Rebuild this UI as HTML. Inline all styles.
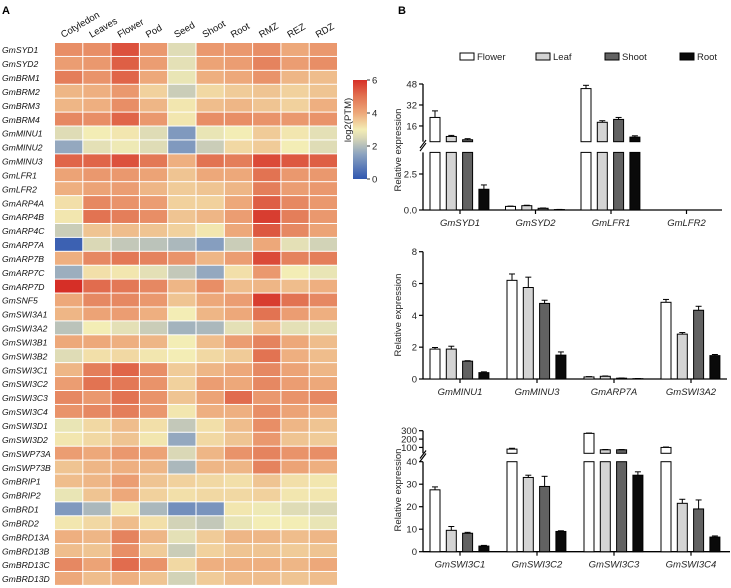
<!DOCTYPE html>
<html><head><meta charset="utf-8"><style>
html,body{margin:0;padding:0;background:#fff}
svg{display:block;font-family:"Liberation Sans",Arial,sans-serif}
</style></head><body>
<svg id="fig" width="731" height="588" viewBox="0 0 731 588" xmlns="http://www.w3.org/2000/svg">
<text x="2" y="14" font-size="11" font-weight="bold">A</text>
<text x="398" y="14" font-size="11" font-weight="bold">B</text>
<g id="heat"></g>
<g id="bars"></g>
</svg>
<script>
const genes=["GmSYD1","GmSYD2","GmBRM1","GmBRM2","GmBRM3","GmBRM4","GmMINU1","GmMINU2","GmMINU3","GmLFR1","GmLFR2","GmARP4A","GmARP4B","GmARP4C","GmARP7A","GmARP7B","GmARP7C","GmARP7D","GmSNF5","GmSWI3A1","GmSWI3A2","GmSWI3B1","GmSWI3B2","GmSWI3C1","GmSWI3C2","GmSWI3C3","GmSWI3C4","GmSWI3D1","GmSWI3D2","GmSWP73A","GmSWP73B","GmBRIP1","GmBRIP2","GmBRD1","GmBRD2","GmBRD13A","GmBRD13B","GmBRD13C","GmBRD13D"];
const tissues=["Cotyledon","Leaves","Flower","Pod","Seed","Shoot","Root","RMZ","REZ","RDZ"];
const heatValues=[
[4.5,4.5,5.5,4.3,2.6,4.3,4.3,4.5,4.0,4.3],
[4.2,4.3,5.3,4.2,2.7,4.1,4.2,4.7,4.2,4.5],
[4.8,4.4,5.2,4.0,2.8,3.9,4.0,4.4,3.8,3.7],
[3.8,3.9,4.3,3.4,2.3,3.3,3.5,3.6,3.4,3.6],
[3.8,3.9,4.5,3.8,3.1,3.7,3.8,3.6,3.4,3.9],
[4.6,4.5,5.2,4.3,3.1,4.5,4.5,4.4,4.3,4.4],
[2.6,3.0,3.1,2.6,1.3,2.8,3.0,3.5,3.1,2.7],
[1.6,2.7,2.9,2.6,1.3,2.3,3.3,3.5,3.0,2.6],
[5.2,5.2,5.5,4.9,3.9,5.0,4.8,5.6,5.4,5.3],
[4.1,4.3,4.3,4.1,3.6,4.0,4.0,5.0,4.3,4.3],
[3.9,4.1,4.2,3.8,3.5,3.6,3.8,4.8,4.2,4.3],
[3.2,4.6,4.4,4.2,3.4,3.4,4.0,5.3,4.6,4.3],
[3.1,5.0,4.8,4.5,3.6,3.8,4.2,5.8,4.8,4.3],
[2.3,3.6,3.7,3.6,3.4,3.1,4.0,5.4,4.6,4.1],
[0.2,2.5,2.2,2.1,1.9,1.4,2.3,4.0,2.7,2.4],
[3.9,4.6,4.9,4.7,4.4,3.8,4.2,5.6,4.7,4.8],
[1.7,3.2,3.1,2.7,2.2,1.6,3.2,4.3,3.0,2.8],
[6.0,5.1,4.9,4.6,3.8,4.5,3.7,3.8,3.7,3.9],
[4.0,4.6,4.6,4.3,3.6,4.0,4.2,5.8,5.0,4.6],
[3.8,4.1,4.2,3.9,3.0,3.8,4.0,5.0,4.2,3.9],
[2.1,3.0,2.7,2.3,1.8,1.9,2.7,3.7,2.7,2.7],
[4.0,4.0,3.9,3.8,3.0,3.7,4.2,4.7,4.0,3.7],
[2.6,3.2,3.3,3.1,3.0,3.3,3.5,5.0,3.9,3.7],
[3.8,4.8,5.2,4.5,3.5,3.8,4.0,4.6,4.1,3.8],
[4.2,5.0,4.9,4.4,3.4,4.2,4.0,4.6,4.2,4.0],
[4.6,4.3,5.0,4.4,3.6,4.1,5.1,4.3,4.4,4.6],
[4.4,4.6,4.8,4.3,3.1,3.9,3.9,4.5,4.1,3.9],
[2.8,3.3,3.7,3.2,2.2,3.2,3.7,4.5,3.8,3.6],
[3.1,3.3,3.6,3.1,1.6,3.3,3.6,4.3,3.6,3.5],
[4.2,4.0,4.3,4.1,2.5,3.8,4.4,4.7,4.4,4.5],
[3.6,3.8,3.9,3.8,1.9,3.8,3.8,4.7,4.1,3.9],
[3.7,3.8,4.2,3.6,3.4,3.3,3.2,3.6,3.2,3.1],
[2.8,3.6,4.0,3.4,3.2,3.3,3.3,3.4,3.1,3.1],
[1.3,1.9,3.1,1.9,1.1,1.2,3.1,2.9,2.6,2.5],
[3.1,3.3,3.7,3.2,2.4,2.2,2.8,3.0,3.0,2.8],
[3.9,3.8,4.7,3.8,2.7,3.5,3.8,3.8,3.7,3.8],
[3.7,3.6,4.5,3.5,2.3,3.4,3.6,3.6,3.5,3.6],
[4.6,4.1,5.1,4.4,3.3,3.9,3.9,3.9,3.8,4.0],
[4.0,3.7,3.9,3.6,2.4,3.5,3.7,3.7,3.6,3.7]];
const colorTicks=[0,2,4,6];

const series=["Flower","Leaf","Shoot","Root"];
const c1Genes=["GmSYD1","GmSYD2","GmLFR1","GmLFR2"];
const c1Vals=[[22.5,0.25,44.5,0],[8,0.3,18.8,0],[5.5,0.12,21,0],[1.44,0.03,7.5,0]];
const c1Err=[[5,0.02,2.5,0],[0.8,0.03,1.2,0],[0.8,0.02,1.5,0],[0.3,0.01,1,0]];
const c1LowTicks=["0.0","2.5"];
const c1UpTicks=[16,32,48];
const c2Genes=["GmMINU1","GmMINU3","GmARP7A","GmSWI3A2"];
const c2Vals=[[1.88,6.2,0.13,4.82],[1.88,5.75,0.17,2.82],[1.12,4.75,0.05,4.32],[0.4,1.5,0.02,1.47]];
const c2Err=[[0.1,0.4,0.02,0.18],[0.18,0.65,0.02,0.1],[0.03,0.2,0.01,0.25],[0.05,0.2,0.01,0.07]];
const c2Ticks=[0,2,4,6,8];
const c3Genes=["GmSWI3C1","GmSWI3C2","GmSWI3C3","GmSWI3C4"];
const c3Vals=[[27.5,80,268,100],[9.5,33,72,21.5],[8.2,29,72,19],[2.5,9,34,6.5]];
const c3Err=[[1.3,10,4,5],[1.7,1,3,1.8],[0.4,4.5,3,4],[0.3,0.3,1.5,0.5]];
const c3LowTicks=[0,10,20,30,40];
const c3UpTicks=[100,200,300];

const NS="http://www.w3.org/2000/svg";
function mk(tag,attrs,parent){const e=document.createElementNS(NS,tag);for(const k in attrs)e.setAttribute(k,attrs[k]);parent.appendChild(e);return e;}

const heat=document.getElementById('heat');
const hx0=55,hy0=43,cw=28.3,rh=13.92;
const stops=[[0,[48,87,176]],[1.5,[140,163,192]],[2.5,[218,216,182]],[3,[243,237,181]],[4,[237,168,122]],[5,[226,115,82]],[6,[214,47,39]]];
function col(v){v=Math.max(0,Math.min(6,v));for(let i=0;i<stops.length-1;i++){const a=stops[i],b=stops[i+1];if(v<=b[0]){const t=(v-a[0])/(b[0]-a[0]);const c=a[1].map((x,j)=>Math.round(x+(b[1][j]-x)*t));return `rgb(${c})`;}}return 'rgb(214,47,39)';}
const hxs=i=>hx0+i*cw, hys=j=>hy0+j*rh;
heatValues.forEach((row,j)=>{
  row.forEach((v,i)=>{
    const r=mk('rect',{x:hxs(i),y:hys(j),width:cw-1,height:rh-1,fill:col(v)},heat);
    
    
  });
  const t=mk('text',{x:2,y:hys(j)+rh/2+3.2,'font-size':8.6,'font-style':'italic',fill:'#111'},heat);
  t.textContent=genes[j];
  
  
});
tissues.forEach((n,i)=>{
  const x=hxs(i)+cw/2-6,y=38;
  const t=mk('text',{x:x,y:y,'font-size':9.5,fill:'#111',transform:`rotate(-30 ${x} ${y})`},heat);
  t.textContent=n;
  
  
});
const cbx=353,cbTop=80,cbBot=179;
const grad=mk('linearGradient',{id:'cbg',x1:0,y1:1,x2:0,y2:0},mk('defs',{},heat));
stops.forEach(s=>mk('stop',{offset:s[0]/6,'stop-color':`rgb(${s[1]})`},grad));
const cb=mk('rect',{x:cbx,y:cbTop,width:14,height:cbBot-cbTop,fill:'url(#cbg)'},heat);


colorTicks.forEach(v=>{
  const y=cbBot-(cbBot-cbTop)*v/6;
  mk('line',{x1:cbx+14,x2:cbx+17,y1:y,y2:y,stroke:'#333'},heat);
  const t=mk('text',{x:cbx+19,y:y+3.5,'font-size':9.5,fill:'#222'},heat);
  t.textContent=v;
  
  
});
const cbt=mk('text',{x:0,y:0,'font-size':9.5,fill:'#222','text-anchor':'middle',transform:`translate(351 120) rotate(-90)`},heat);
cbt.textContent='log2(PTM)';



const bars=document.getElementById('bars');
const fills=['#ffffff','#d4d4d4','#626262','#0a0a0a'];
const legX=[460,536,605,680];
series.forEach((s,k)=>{
  const r=mk('rect',{x:legX[k],y:53,width:14,height:7,fill:fills[k],stroke:'#000','stroke-width':1},bars);
  
  
  const t=mk('text',{x:legX[k]+17,y:60,'font-size':9.5,fill:'#222'},bars);
  t.textContent=s;
  
  
});
function chart(cfg){
  const g=mk('g',{},bars);
  
  
  const ax=423;
  const segs=cfg.segs;
  const ys=(v,s)=>s.y0+(v-s.v0)*(s.y1-s.y0)/(s.v1-s.v0);
  segs.forEach(s=>mk('line',{x1:ax,x2:ax,y1:s.y0,y2:s.y1,stroke:'#000','stroke-width':1.3},g));
  mk('line',{x1:ax,x2:cfg.xEnd,y1:segs[0].y0,y2:segs[0].y0,stroke:'#000','stroke-width':1.3},g);
  if(segs.length>1){const yb=(segs[0].y1+segs[1].y0)/2;mk('line',{x1:ax-3,x2:ax+3,y1:yb+4,y2:yb-4,stroke:'#000','stroke-width':1.2},g);mk('line',{x1:ax-3,x2:ax+3,y1:yb+1,y2:yb-7,stroke:'#000','stroke-width':1.2},g);}
  cfg.ticks.forEach((tk,si)=>tk.forEach(lbl=>{
    const y=ys(parseFloat(lbl),segs[si]);
    mk('line',{x1:ax-4,x2:ax,y1:y,y2:y,stroke:'#000','stroke-width':1.2},g);
    const t=mk('text',{x:ax-6,y:y+3.5,'font-size':9.5,'text-anchor':'end',fill:'#222'},g);
    t.textContent=lbl;
    
    
  }));
  const yt=mk('text',{x:0,y:0,'font-size':9.5,'text-anchor':'middle',fill:'#222',transform:`translate(${cfg.titleX} ${cfg.titleY}) rotate(-90)`},g);
  yt.textContent='Relative expression';
  
  
  const base=segs[0].y0;
  cfg.genes.forEach((gn,gi)=>{
    const cx=cfg.c0+gi*cfg.step;
    mk('line',{x1:cx,x2:cx,y1:base,y2:base+4,stroke:'#000','stroke-width':1.2},g);
    const t=mk('text',{x:cx,y:base+16,'font-size':9.5,'font-style':'italic','text-anchor':'middle',fill:'#222'},g);
    t.textContent=gn;
    
    
    series.forEach((s,k)=>{
      const v=cfg.vals[k][gi],e=cfg.err[k][gi];
      const bx=cx-30+k*16.3,bw=10;
      let topY,ey;
      if(segs.length>1&&v>segs[0].v1){
        const r1=mk('rect',{x:bx,y:segs[0].y1,width:bw,height:base-segs[0].y1,fill:fills[k],stroke:'#000','stroke-width':1},g);
        
        
        topY=ys(v,segs[1]);
        const r2=mk('rect',{x:bx,y:topY,width:bw,height:segs[1].y0-topY,fill:fills[k],stroke:'#000','stroke-width':1},g);
        
        
        ey=ys(v+e,segs[1]);
      } else {
        if(v<=0) return;
        topY=ys(v,segs[0]);
        const r=mk('rect',{x:bx,y:topY,width:bw,height:base-topY,fill:fills[k],stroke:'#000','stroke-width':1},g);
        
        
        ey=ys(v+e,segs[0]);
      }
      if(e>0){
        mk('line',{x1:bx+bw/2,x2:bx+bw/2,y1:topY,y2:ey,stroke:'#000','stroke-width':1},g);
        mk('line',{x1:bx+bw/2-3,x2:bx+bw/2+3,y1:ey,y2:ey,stroke:'#000','stroke-width':1},g);
      }
    });
  });
}
chart({name:'chart-swi-snf-1',genes:c1Genes,vals:c1Vals,err:c1Err,xEnd:722,c0:460,step:75.5,titleX:401,titleY:150,
  segs:[{v0:0,v1:4,y0:210,y1:152.4},{v0:4,v1:48,y0:141.7,y1:84}],ticks:[c1LowTicks,c1UpTicks.map(String)]});
chart({name:'chart-swi-snf-2',genes:c2Genes,vals:c2Vals,err:c2Err,xEnd:727,c0:460,step:77,titleX:401,titleY:315,
  segs:[{v0:0,v1:8,y0:379,y1:251.7}],ticks:[c2Ticks.map(String)]});
chart({name:'chart-swi-snf-3',genes:c3Genes,vals:c3Vals,err:c3Err,xEnd:730,c0:460,step:77,titleX:401,titleY:490,
  segs:[{v0:0,v1:40,y0:551.7,y1:461.7},{v0:30,v1:300,y0:453.3,y1:430.7}],ticks:[c3LowTicks.map(String),c3UpTicks.map(String)]});
</script>
</body></html>
